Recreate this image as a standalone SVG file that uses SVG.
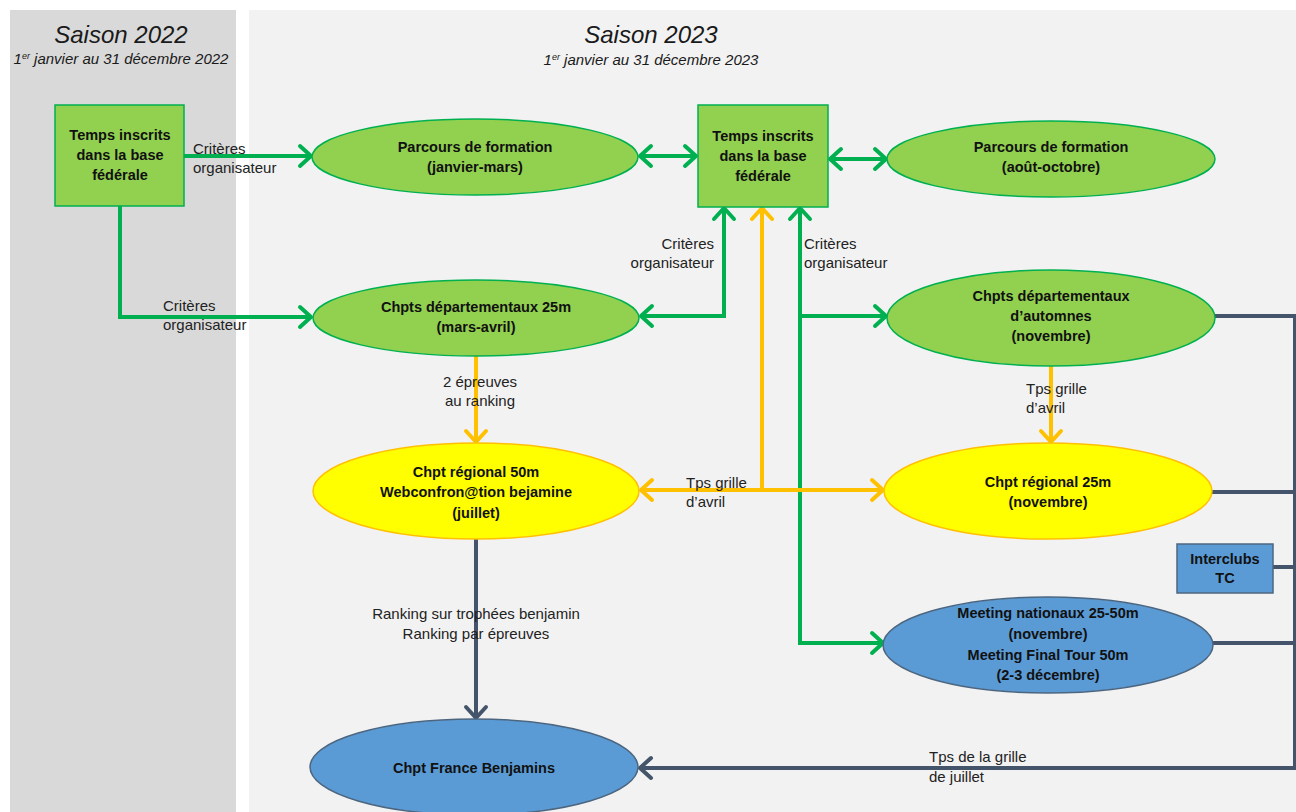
<svg xmlns="http://www.w3.org/2000/svg" width="1296" height="812" viewBox="0 0 1296 812">
<style>
.t{font-family:"Liberation Sans",Arial,sans-serif;fill:#1a1a1a}
.n{font-family:"Liberation Sans",Arial,sans-serif;font-weight:bold;font-size:14.5px;fill:#111;text-anchor:middle}
.l{font-family:"Liberation Sans",Arial,sans-serif;font-size:15px;fill:#222}
.gn{fill:#92d050;stroke:#00b050;stroke-width:1.5}
.yl{fill:#ffff00;stroke:#ffc000;stroke-width:1.5}
.bl{fill:#5b9bd5;stroke:#4d6680;stroke-width:1.5}
.cg{stroke:#00b050;stroke-width:4;fill:none}
.cy{stroke:#ffc000;stroke-width:4;fill:none}
.cd{stroke:#44546a;stroke-width:4;fill:none}
</style>
<defs>
<marker id="ag" markerUnits="userSpaceOnUse" markerWidth="30" markerHeight="30" viewBox="-15 -15 30 30" refX="0" refY="0" orient="auto-start-reverse" overflow="visible"><path d="M-11,-10 L0,0 L-11,10" fill="none" stroke="#00b050" stroke-width="4" stroke-linecap="round" stroke-linejoin="round"/></marker>
<marker id="ay" markerUnits="userSpaceOnUse" markerWidth="30" markerHeight="30" viewBox="-15 -15 30 30" refX="0" refY="0" orient="auto-start-reverse" overflow="visible"><path d="M-11,-10 L0,0 L-11,10" fill="none" stroke="#ffc000" stroke-width="4" stroke-linecap="round" stroke-linejoin="round"/></marker>
<marker id="ad" markerUnits="userSpaceOnUse" markerWidth="30" markerHeight="30" viewBox="-15 -15 30 30" refX="0" refY="0" orient="auto-start-reverse" overflow="visible"><path d="M-11,-10 L0,0 L-11,10" fill="none" stroke="#44546a" stroke-width="4" stroke-linecap="round" stroke-linejoin="round"/></marker>
</defs>
<rect x="0" y="0" width="1296" height="812" fill="#ffffff"/>
<g id="panel2022">
<rect x="10" y="10" width="226" height="802" fill="#d9d9d9"/>
<text class="t" x="121" y="43" font-size="24" font-style="italic" text-anchor="middle">Saison 2022</text>
<text class="t" x="121" y="64" font-size="15" font-style="italic" text-anchor="middle">1<tspan font-size="9" dy="-5">er</tspan><tspan dy="5"> janvier au 31 décembre 2022</tspan></text>
</g>
<g id="panel2023">
<rect x="249" y="10" width="1047" height="802" fill="#f2f2f2"/>
<text class="t" x="651" y="43" font-size="24" font-style="italic" text-anchor="middle">Saison 2023</text>
<text class="t" x="651" y="65" font-size="15" font-style="italic" text-anchor="middle">1<tspan font-size="9" dy="-5">er</tspan><tspan dy="5"> janvier au 31 décembre 2023</tspan></text>
</g>
<g id="connectors">
<path class="cg" d="M184,156 H311" marker-end="url(#ag)"/>
<path class="cg" d="M120,206 V317 H311" marker-end="url(#ag)"/>
<path class="cg" d="M640,156 H696" marker-start="url(#ag)" marker-end="url(#ag)"/>
<path class="cg" d="M830,159 H886" marker-start="url(#ag)" marker-end="url(#ag)"/>
<path class="cg" d="M724,208 V316 H641" marker-start="url(#ag)" marker-end="url(#ag)"/>
<path class="cg" d="M800,208 V643 H883" marker-start="url(#ag)" marker-end="url(#ag)"/>
<path class="cg" d="M800,316 H886" marker-end="url(#ag)"/>
<path class="cy" d="M762,208 V490" marker-start="url(#ay)"/>
<path class="cy" d="M641,490 H883" marker-start="url(#ay)" marker-end="url(#ay)"/>
<path class="cy" d="M476,356 V442" marker-end="url(#ay)"/>
<path class="cy" d="M1051,366 V442" marker-end="url(#ay)"/>
<path class="cd" d="M476,539 V718" marker-end="url(#ad)"/>
<path class="cd" d="M1215,316 H1295 V768 H640" marker-end="url(#ad)"/>
<path class="cd" d="M1212,492 H1295"/>
<path class="cd" d="M1273,567 H1295"/>
<path class="cd" d="M1212,643 H1295"/>
<text class="l" x="193" y="154">Critères</text>
<text class="l" x="193" y="173">organisateur</text>
<text class="l" x="163" y="311">Critères</text>
<text class="l" x="163" y="330">organisateur</text>
<text class="l" x="714" y="249" text-anchor="end">Critères</text>
<text class="l" x="714" y="268" text-anchor="end">organisateur</text>
<text class="l" x="804" y="249">Critères</text>
<text class="l" x="804" y="268">organisateur</text>
<text class="l" x="480" y="387" text-anchor="middle">2 épreuves</text>
<text class="l" x="480" y="406" text-anchor="middle">au ranking</text>
<text class="l" x="686" y="488">Tps grille</text>
<text class="l" x="686" y="507">d’avril</text>
<text class="l" x="1026" y="394">Tps grille</text>
<text class="l" x="1026" y="413">d’avril</text>
<text class="l" x="476" y="619" text-anchor="middle">Ranking sur trophées benjamin</text>
<text class="l" x="476" y="639" text-anchor="middle">Ranking par épreuves</text>
<text class="l" x="929" y="762">Tps de la grille</text>
<text class="l" x="929" y="782">de juillet</text>
</g>
<g id="temps2022">
<rect class="gn" x="55" y="105" width="129" height="101"/>
<text class="n" x="120" y="140">Temps inscrits</text>
<text class="n" x="120" y="160">dans la base</text>
<text class="n" x="120" y="180">fédérale</text>
</g>
<g id="temps2023">
<rect class="gn" x="698" y="105" width="130" height="102"/>
<text class="n" x="763" y="141">Temps inscrits</text>
<text class="n" x="763" y="161">dans la base</text>
<text class="n" x="763" y="181">fédérale</text>
</g>
<g id="parcours1">
<ellipse class="gn" cx="475" cy="157" rx="163" ry="38"/>
<text class="n" x="475" y="152">Parcours de formation</text>
<text class="n" x="475" y="172">(janvier-mars)</text>
</g>
<g id="parcours2">
<ellipse class="gn" cx="1051" cy="159" rx="164" ry="38"/>
<text class="n" x="1051" y="152">Parcours de formation</text>
<text class="n" x="1051" y="172">(août-octobre)</text>
</g>
<g id="chptsdep25">
<ellipse class="gn" cx="476" cy="318" rx="163" ry="38"/>
<text class="n" x="476" y="312">Chpts départementaux 25m</text>
<text class="n" x="476" y="332">(mars-avril)</text>
</g>
<g id="chptsdepautomne">
<ellipse class="gn" cx="1051" cy="318" rx="164" ry="48"/>
<text class="n" x="1051" y="301">Chpts départementaux</text>
<text class="n" x="1051" y="321">d’automnes</text>
<text class="n" x="1051" y="341">(novembre)</text>
</g>
<g id="chptreg50">
<ellipse class="yl" cx="476" cy="491" rx="163" ry="48"/>
<text class="n" x="476" y="477">Chpt régional 50m</text>
<text class="n" x="476" y="497">Webconfron@tion bejamine</text>
<text class="n" x="476" y="518">(juillet)</text>
</g>
<g id="chptreg25">
<ellipse class="yl" cx="1048" cy="491" rx="164" ry="48"/>
<text class="n" x="1048" y="487">Chpt régional 25m</text>
<text class="n" x="1048" y="507">(novembre)</text>
</g>
<g id="interclubs">
<rect x="1177" y="544" width="96" height="49" fill="#5b9bd5" stroke="#4d6680" stroke-width="1.5"/>
<text class="n" x="1225" y="564">Interclubs</text>
<text class="n" x="1225" y="583">TC</text>
</g>
<g id="meeting">
<ellipse class="bl" cx="1048" cy="645" rx="165" ry="48"/>
<text class="n" x="1048" y="618">Meeting nationaux 25-50m</text>
<text class="n" x="1048" y="639">(novembre)</text>
<text class="n" x="1048" y="660">Meeting Final Tour 50m</text>
<text class="n" x="1048" y="680">(2-3 décembre)</text>
</g>
<g id="francebenjamins">
<ellipse class="bl" cx="474" cy="767" rx="164" ry="48"/>
<text class="n" x="474" y="773">Chpt France Benjamins</text>
</g>
</svg>
